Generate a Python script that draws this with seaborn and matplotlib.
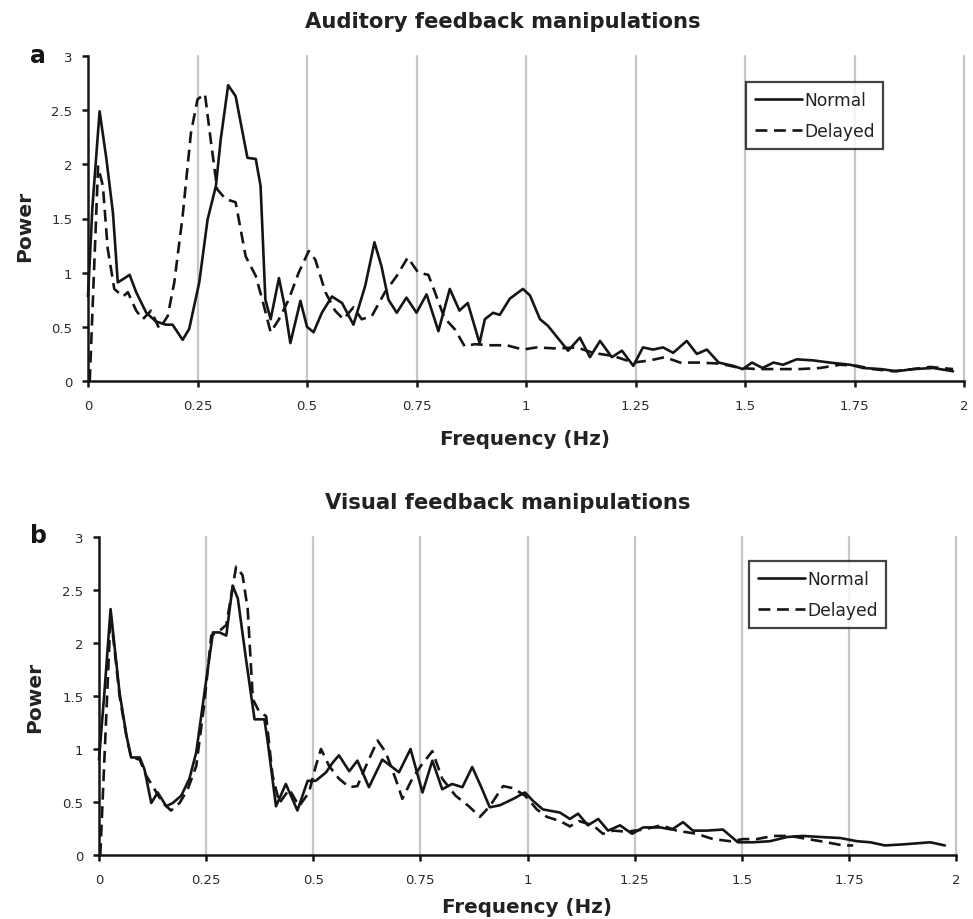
import matplotlib
matplotlib.use("Agg")
import matplotlib.pyplot as plt
import seaborn as sns
import numpy as np

# ---------------- Data ----------------
# Panel a: Auditory feedback manipulations
a_normal_f = [0.0, 0.01, 0.0265, 0.042, 0.057, 0.068, 0.08, 0.095, 0.11, 0.133, 0.155, 0.178, 0.193,
              0.216, 0.231, 0.254, 0.273, 0.292, 0.303, 0.32, 0.337, 0.364, 0.383, 0.394, 0.405, 0.417,
              0.436, 0.449, 0.462, 0.485, 0.5, 0.515, 0.534, 0.557, 0.58, 0.606, 0.633, 0.654, 0.67,
              0.686, 0.705, 0.727, 0.75, 0.773, 0.8, 0.826, 0.848, 0.867, 0.894, 0.906, 0.925, 0.94,
              0.963, 0.993, 1.009, 1.032, 1.05, 1.096, 1.123, 1.146, 1.169, 1.196, 1.219, 1.245, 1.267,
              1.29, 1.313, 1.336, 1.367, 1.39, 1.413, 1.44, 1.473, 1.495, 1.516, 1.54, 1.565, 1.587,
              1.618, 1.656, 1.694, 1.74, 1.77, 1.81, 1.846, 1.884, 1.93, 1.975]
a_normal_p = [0.78, 1.6, 2.49, 2.05, 1.55, 0.91, 0.94, 0.98, 0.82, 0.63, 0.55, 0.52, 0.52,
              0.38, 0.48, 0.91, 1.49, 1.8, 2.23, 2.73, 2.63, 2.06, 2.05, 1.8, 0.75, 0.57,
              0.95, 0.69, 0.35, 0.74, 0.5, 0.45, 0.63, 0.78, 0.72, 0.52, 0.88, 1.28, 1.06,
              0.75, 0.63, 0.77, 0.63, 0.8, 0.46, 0.85, 0.65, 0.72, 0.35, 0.57, 0.63, 0.61,
              0.76, 0.85, 0.79, 0.57, 0.51, 0.28, 0.40, 0.22, 0.37, 0.22, 0.28, 0.14, 0.31,
              0.29, 0.31, 0.26, 0.37, 0.25, 0.29, 0.17, 0.14, 0.11, 0.17, 0.12, 0.17, 0.15,
              0.2, 0.19, 0.17, 0.15, 0.12, 0.11, 0.09, 0.11, 0.12, 0.09]

a_delayed_f = [0.004, 0.023, 0.034, 0.045, 0.06, 0.08, 0.091, 0.11, 0.125, 0.144, 0.163, 0.182, 0.197,
               0.216, 0.235, 0.25, 0.267, 0.28, 0.295, 0.314, 0.337, 0.36, 0.383, 0.398, 0.417, 0.436,
               0.458, 0.481, 0.504, 0.519, 0.542, 0.564, 0.583, 0.606, 0.625, 0.648, 0.678, 0.705,
               0.73, 0.754, 0.777, 0.792, 0.814, 0.837, 0.86, 0.883, 0.918, 0.956, 0.993, 1.024,
               1.07, 1.116, 1.153, 1.2, 1.245, 1.283, 1.317, 1.352, 1.397, 1.443, 1.489, 1.527,
               1.58, 1.625, 1.671, 1.717, 1.756, 1.792, 1.838, 1.884, 1.922, 1.975]
a_delayed_p = [0.0, 1.98, 1.8, 1.22, 0.85, 0.78, 0.82, 0.65, 0.57, 0.65, 0.48, 0.6, 0.91,
               1.52, 2.29, 2.6, 2.65, 2.23, 1.77, 1.68, 1.65, 1.15, 0.97, 0.75, 0.45, 0.57,
               0.75, 1.0, 1.2, 1.12, 0.82, 0.65, 0.57, 0.68, 0.57, 0.6, 0.82, 0.97,
               1.14, 1.0, 0.98, 0.82, 0.58, 0.48, 0.32, 0.34, 0.33, 0.33, 0.29, 0.31,
               0.3, 0.31, 0.26, 0.23, 0.17, 0.19, 0.22, 0.17, 0.17, 0.16, 0.12, 0.11,
               0.11, 0.11, 0.12, 0.15, 0.14, 0.11, 0.09, 0.11, 0.13, 0.11]

# Panel b: Visual feedback manipulations
b_normal_f = [0.0, 0.012, 0.027, 0.036, 0.048, 0.064, 0.075, 0.095, 0.106, 0.122, 0.137, 0.157, 0.172,
              0.192, 0.211, 0.227, 0.246, 0.266, 0.281, 0.297, 0.312, 0.324, 0.343, 0.363, 0.386,
              0.394, 0.413, 0.436, 0.448, 0.463, 0.487, 0.506, 0.53, 0.545, 0.56, 0.584, 0.603,
              0.63, 0.661, 0.681, 0.7, 0.727, 0.755, 0.778, 0.801, 0.824, 0.848, 0.871, 0.891,
              0.912, 0.936, 0.967, 0.994, 1.013, 1.036, 1.076, 1.099, 1.118, 1.141, 1.165, 1.188,
              1.216, 1.244, 1.27, 1.31, 1.337, 1.363, 1.386, 1.418, 1.456, 1.491, 1.526, 1.566,
              1.606, 1.643, 1.683, 1.73, 1.769, 1.8, 1.834, 1.876, 1.94, 1.974]
b_normal_p = [0.9, 1.5, 2.32, 1.98, 1.53, 1.13, 0.92, 0.92, 0.81, 0.49, 0.59, 0.46, 0.49,
              0.56, 0.72, 0.97, 1.53, 2.1, 2.1, 2.07, 2.54, 2.42, 1.85, 1.28, 1.28,
              1.06, 0.46, 0.67, 0.56, 0.42, 0.7, 0.7, 0.78, 0.87, 0.94, 0.79, 0.89,
              0.64, 0.9, 0.84, 0.78, 1.0, 0.59, 0.89, 0.62, 0.67, 0.64, 0.83, 0.65,
              0.45, 0.47, 0.53, 0.59, 0.51, 0.43, 0.4, 0.34, 0.39, 0.28, 0.34, 0.23,
              0.28, 0.2, 0.26, 0.26, 0.24, 0.31, 0.23, 0.23, 0.24, 0.12, 0.12, 0.13,
              0.17, 0.18, 0.17, 0.16, 0.13, 0.12, 0.09, 0.1, 0.12, 0.09]

b_delayed_f = [0.003, 0.027, 0.036, 0.048, 0.064, 0.075, 0.095, 0.11, 0.134, 0.149, 0.168, 0.188, 0.207,
               0.227, 0.246, 0.262, 0.277, 0.297, 0.32, 0.335, 0.347, 0.359, 0.374, 0.39, 0.405,
               0.421, 0.444, 0.467, 0.49, 0.506, 0.518, 0.537, 0.56, 0.584, 0.603, 0.623, 0.65,
               0.669, 0.692, 0.708, 0.731, 0.751, 0.778, 0.801, 0.832, 0.863, 0.889, 0.912, 0.943,
               0.967, 0.994, 1.022, 1.045, 1.076, 1.099, 1.12, 1.153, 1.176, 1.2, 1.232, 1.27,
               1.313, 1.348, 1.395, 1.433, 1.473, 1.503, 1.535, 1.573, 1.612, 1.655, 1.698, 1.737, 1.76]
b_delayed_p = [0.0, 2.26, 1.95, 1.5, 1.12, 0.92, 0.9, 0.75, 0.59, 0.49, 0.42, 0.49, 0.62,
               0.84, 1.44, 2.07, 2.1, 2.17, 2.72, 2.64, 2.32, 1.47, 1.35, 1.31, 0.75,
               0.49, 0.62, 0.46, 0.59, 0.84, 1.0, 0.84, 0.72, 0.64, 0.65, 0.84, 1.08,
               0.97, 0.72, 0.53, 0.72, 0.84, 0.98, 0.72, 0.56, 0.46, 0.36, 0.46, 0.65,
               0.63, 0.56, 0.43, 0.36, 0.32, 0.27, 0.32, 0.28, 0.2, 0.23, 0.22, 0.24,
               0.28, 0.23, 0.2, 0.15, 0.13, 0.15, 0.15, 0.18, 0.18, 0.15, 0.12, 0.09, 0.09]

x_ticks = [0, 0.25, 0.5, 0.75, 1, 1.25, 1.5, 1.75, 2]
x_ticklabels = ["0", "0.25", "0.5", "0.75", "1", "1.25", "1.5", "1.75", "2"]
y_ticks = [0, 0.5, 1, 1.5, 2, 2.5, 3]
y_ticklabels = ["0", "0.5", "1", "1.5", "2", "2.5", "3"]
titles = ["Auditory feedback manipulations", "Visual feedback manipulations"]
panel_letters = ["a", "b"]
series_names = ["Normal", "Delayed"]

# ---------------- Styling ----------------
sns.set_theme(style="white")
plt.rcParams['font.family'] = ['DejaVu Sans']

fig = plt.figure(figsize=(9.73, 9.2), dpi=100)
W, H = 973, 920

def px_axes(x0, x1, ytop, ybot):
    return fig.add_axes([x0 / W, 1 - ybot / H, (x1 - x0) / W, (ybot - ytop) / H])

ax_a = px_axes(88, 964, 57, 382)
ax_b = px_axes(99, 956, 538, 856)

panels = [
    dict(ax=ax_a, nf=a_normal_f, npow=a_normal_p, df=a_delayed_f, dpow=a_delayed_p,
         leg=(746, 83), xlab=(525, 440), ylab=(25, 226), title=(503, 22), letter=(38, 56),
         box=(88, 964, 57, 382)),
    dict(ax=ax_b, nf=b_normal_f, npow=b_normal_p, df=b_delayed_f, dpow=b_delayed_p,
         leg=(749, 562), xlab=(527, 908), ylab=(35, 697), title=(508, 503), letter=(39, 536),
         box=(99, 956, 538, 856)),
]

ink = "#151515"
for i, p in enumerate(panels):
    ax = p["ax"]
    for xv in x_ticks[1:]:
        ax.axvline(xv, color="#c6c6c6", lw=1.6, zorder=0)
    sns.lineplot(x=p["nf"], y=p["npow"], ax=ax, color=ink, lw=1.9, sort=False,
                 estimator=None, label=series_names[0])
    sns.lineplot(x=p["df"], y=p["dpow"], ax=ax, color=ink, lw=1.9, sort=False,
                 estimator=None, label=series_names[1])
    ax.lines[-1].set_dashes([4.5, 2.5])

    ax.set_xlim(0, 2)
    ax.set_ylim(0, 3)
    ax.set_xticks(x_ticks)
    ax.set_xticklabels(x_ticklabels)
    ax.set_yticks(y_ticks)
    ax.set_yticklabels(y_ticklabels)
    ax.tick_params(axis="both", which="both", direction="out", length=4.3, width=1.8,
                   color=ink, labelsize=9.5, labelcolor="#2a2a2a",
                   bottom=True, left=True)
    ax.tick_params(axis="x", pad=9)
    ax.tick_params(axis="y", pad=7)
    for s in ["top", "right"]:
        ax.spines[s].set_visible(False)
    for s in ["left", "bottom"]:
        ax.spines[s].set_color(ink)
        ax.spines[s].set_linewidth(1.8)
    for ln in ax.lines:
        ln.set_clip_on(False)

    x0, x1, yt, yb = p["box"]
    aw, ah = x1 - x0, yb - yt
    ax.set_xlabel("Frequency (Hz)", fontsize=14.3, fontweight="bold", color="#222222")
    ax.xaxis.set_label_coords((p["xlab"][0] - x0) / aw, (yb - p["xlab"][1]) / ah)
    ax.xaxis.label.set_va("center")
    ax.set_ylabel("Power", fontsize=14.5, fontweight="bold", color="#222222")
    ax.yaxis.set_label_coords((p["ylab"][0] - x0) / aw, (yb - p["ylab"][1]) / ah)
    ax.yaxis.label.set_va("center")

    lx, ly = p["leg"]
    lg = ax.legend(loc="upper left",
                   bbox_to_anchor=(lx / W, 1 - ly / H), bbox_transform=fig.transFigure,
                   frameon=True, fancybox=False, fontsize=12.3, handlelength=2.8,
                   handletextpad=0.1, borderpad=0.5, labelspacing=0.8, borderaxespad=0)
    fr = lg.get_frame()
    fr.set_edgecolor(ink)
    fr.set_linewidth(1.6)
    for t in lg.get_texts():
        t.set_color("#222222")

    fig.text(p["title"][0] / W, 1 - p["title"][1] / H, titles[i], ha="center", va="center",
             fontsize=15.2, fontweight="bold", color="#222222")
    fig.text(p["letter"][0] / W, 1 - p["letter"][1] / H, panel_letters[i], ha="center",
             va="center", fontsize=17, fontweight="bold", color=ink)

fig.savefig("out.png", dpi=100, facecolor="white")
